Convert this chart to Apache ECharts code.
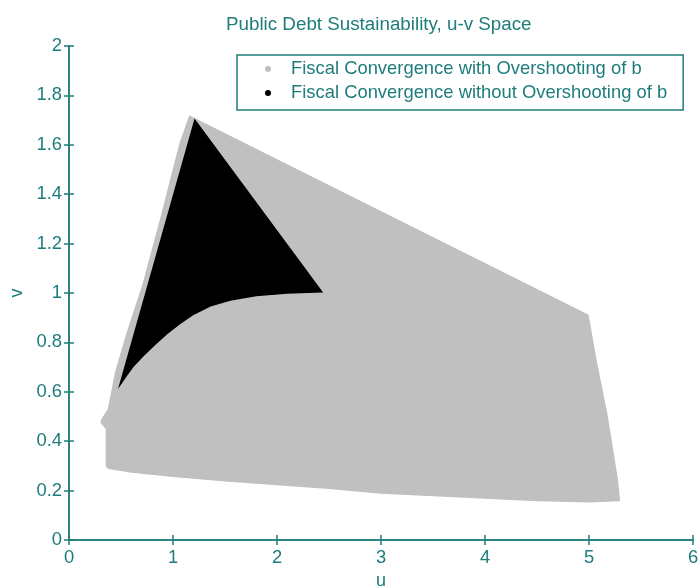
<!DOCTYPE html>
<html>
<head>
<meta charset="utf-8">
<script src="https://cdn.jsdelivr.net/npm/echarts@6/dist/echarts.min.js"></script>
<style>
html,body{margin:0;padding:0;background:#ffffff;}
#chart{width:699px;height:587px;}
</style>
</head>
<body>
<div id="chart"></div>
<script>
// ---- data ----
const titleText = 'Public Debt Sustainability, u-v Space';
const xName = 'u';
const yName = 'v';
const xTicks = [0, 1, 2, 3, 4, 5, 6];
const yTicks = [0, 0.2, 0.4, 0.6, 0.8, 1, 1.2, 1.4, 1.6, 1.8, 2];
const seriesNames = ['Fiscal Convergence with Overshooting of b', 'Fiscal Convergence without Overshooting of b'];

// boundary of the gray region (overshooting), u and v
const grayU = [1.16, 1.07, 0.88, 0.71, 0.56, 0.45, 0.41, 0.38, 0.32, 0.31, 0.36, 0.36, 0.38,
               0.6, 1.0, 1.5, 2.0, 2.5, 3.0, 3.5, 4.0, 4.5, 5.0, 5.29,
               5.29, 5.27, 5.17, 5.07, 4.99];
const grayV = [1.715, 1.607, 1.296, 1.03, 0.838, 0.68, 0.595, 0.53, 0.49, 0.475, 0.45, 0.30, 0.29,
               0.275, 0.258, 0.24, 0.225, 0.21, 0.19, 0.18, 0.17, 0.16, 0.155, 0.16,
               0.17, 0.25, 0.51, 0.72, 0.91];

// boundary of the black region (no overshooting), u and v
const blackU = [1.21, 2.43, 2.1, 1.8, 1.55, 1.36, 1.2, 1.06, 0.94, 0.82, 0.71, 0.62, 0.55, 0.49];
const blackV = [1.70, 1.005, 1.0, 0.99, 0.972, 0.948, 0.915, 0.875, 0.835, 0.79, 0.745, 0.705, 0.665, 0.628];

const ink = '#1e7d7b';
const grayColor = '#c0c0c0';
const blackColor = '#000000';

function toPairs(us, vs) { return us.map((u, i) => [u, vs[i]]); }

function polygonRenderer(us, vs) {
  return function (params, api) {
    if (params.dataIndex !== 0) return null;
    const pts = us.map((u, i) => api.coord([u, vs[i]]));
    return {
      type: 'polygon',
      shape: { points: pts },
      style: { fill: api.visual('color'), stroke: api.visual('color'), lineWidth: 1.5 }
    };
  };
}

const chart = echarts.init(document.getElementById('chart'), null, { renderer: 'canvas' });

const axisCommon = {
  type: 'value',
  axisLine: { show: true, lineStyle: { color: ink, width: 1.5 } },
  axisTick: { show: true, inside: true, length: 5, lineStyle: { color: ink, width: 1.5 } },
  splitLine: { show: false }
};

const fontFam = '"Liberation Sans", Arial, sans-serif';

chart.setOption({
  animation: false,
  backgroundColor: '#ffffff',
  textStyle: { fontFamily: fontFam },
  title: {
    text: titleText,
    left: 226,
    top: 15,
    padding: 0,
    textStyle: { fontSize: 18.8, fontWeight: 'normal', color: ink, fontFamily: fontFam }
  },
  grid: { left: 69, right: 6, top: 46, bottom: 47, containLabel: false, outerBoundsMode: 'none' },
  legend: {
    orient: 'vertical',
    left: 237,
    top: 55,
    padding: [5, 16, 8, 28],
    itemGap: 6,
    itemWidth: 36,
    itemHeight: 6,
    icon: 'circle',
    borderColor: ink,
    borderWidth: 1.5,
    backgroundColor: '#ffffff',
    textStyle: { fontSize: 18.4, color: ink, fontFamily: fontFam },
    data: seriesNames
  },
  xAxis: [
    Object.assign({}, axisCommon, {
      position: 'bottom', min: xTicks[0], max: xTicks[xTicks.length - 1], interval: xTicks[1] - xTicks[0],
      name: xName, nameLocation: 'middle', nameGap: 32,
      nameTextStyle: { fontSize: 18, color: ink },
      axisLabel: { show: true, fontSize: 18.4, color: ink, margin: 9 }
    }),
    Object.assign({}, axisCommon, {
      position: 'top', min: xTicks[0], max: xTicks[xTicks.length - 1], interval: xTicks[1] - xTicks[0],
      axisLabel: { show: false }
    })
  ],
  yAxis: [
    Object.assign({}, axisCommon, {
      position: 'left', min: yTicks[0], max: yTicks[yTicks.length - 1], interval: 0.2,
      name: yName, nameLocation: 'middle', nameGap: 42,
      nameTextStyle: { fontSize: 18, color: ink },
      axisLabel: { show: true, fontSize: 18.4, color: ink, margin: 7 }
    }),
    Object.assign({}, axisCommon, {
      position: 'right', min: yTicks[0], max: yTicks[yTicks.length - 1], interval: 0.2,
      axisLabel: { show: false }
    })
  ],
  series: [
    {
      name: seriesNames[0],
      type: 'custom',
      xAxisIndex: 0, yAxisIndex: 0,
      itemStyle: { color: grayColor },
      renderItem: polygonRenderer(grayU, grayV),
      data: toPairs(grayU, grayV),
      encode: { x: 0, y: 1 },
      z: 2
    },
    {
      name: seriesNames[1],
      type: 'custom',
      xAxisIndex: 0, yAxisIndex: 0,
      itemStyle: { color: blackColor },
      renderItem: polygonRenderer(blackU, blackV),
      data: toPairs(blackU, blackV),
      encode: { x: 0, y: 1 },
      z: 3
    }
  ]
});
</script>
</body>
</html>
